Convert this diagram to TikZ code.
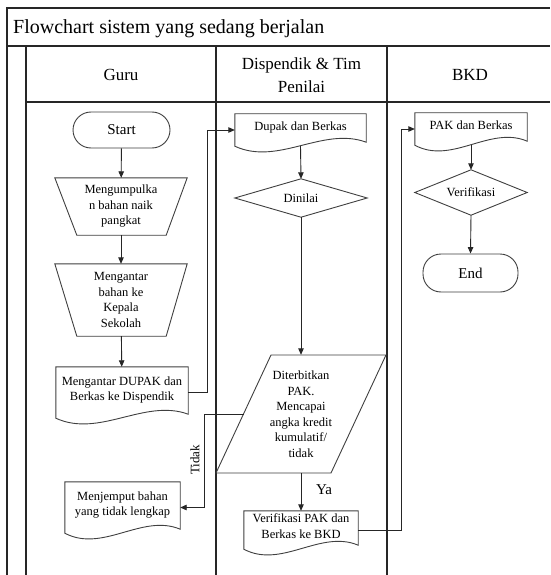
\documentclass[tikz,border=0pt]{standalone}
\usepackage{fontspec}
\setmainfont{Liberation Serif}
\usetikzlibrary{calc,arrows.meta}

% font sizes (1pt = 1 unit of the drawing grid)
\newcommand\flowtitle{\fontsize{20}{24}\selectfont}
\newcommand\flowhead{\fontsize{17}{23}\selectfont}
\newcommand\flowbody{\fontsize{12.5}{15.5}\selectfont}
\newcommand\flowterm{\fontsize{15}{18}\selectfont}
% lifts the text of a document shape a little above its wavy edge
\newcommand\docpad{\\[-8pt]\mbox{}}

% outlines drawn from the anchors of an invisible holder node
\newcommand\docoutline[1]{%
  \draw[outline] (#1.south west) -- (#1.north west) -- (#1.north east)
    -- ($(#1.south east)+(0,-4)$)
    .. controls ($(#1.south west)!0.67!(#1.south east)+(0,-20)$)
    and ($(#1.south west)!0.33!(#1.south east)+(0,20)$) .. (#1.south west)
    -- cycle;}
\newcommand\trapoutline[1]{%
  \draw[outline] (#1.north west) -- (#1.north east)
    -- ($(#1.south east)+(-21,0)$) -- ($(#1.south west)+(22,0)$) -- cycle;}
\newcommand\diamondoutline[1]{%
  \draw[outline] (#1.north) -- (#1.east) -- (#1.south) -- (#1.west) -- cycle;}

\tikzset{
  lane/.style={line width=1.1pt, draw=black!85},
  outline/.style={line width=0.9pt, draw=black!75},
  holder/.style={rectangle, draw=none, inner sep=0pt, align=center, font=\flowbody},
  term/.style={rectangle, rounded corners=18pt, outline, inner sep=0pt, font=\flowterm},
  flow/.style={line width=0.9pt, draw=black!85, -{Triangle[length=6.5pt,width=5.5pt]}},
}

\begin{document}
\begin{tikzpicture}[x=1pt, y=-1pt]
\fill[white] (0,0) rectangle (550,575);
\useasboundingbox (0,0) rectangle (550,575);

% pool and swimlanes
\draw[lane] (7,575) -- (7,8) -- (550,8);
\draw[lane] (7,46) -- (550,46);
\draw[lane] (26,575) -- (26,46);
\draw[lane] (26,102) -- (550,102);
\draw[lane] (216,46) -- (216,575);
\draw[lane] (387,46) -- (387,575);

\node[anchor=base west, font=\flowtitle, inner sep=0pt] (title) at (13,34) {Flowchart sistem yang sedang berjalan};
\node[font=\flowhead, align=center] (hguru) at (121,75) {Guru};
\node[font=\flowhead, align=center] (hdisp) at (301.5,75) {Dispendik \& Tim\\Penilai};
\node[font=\flowhead, align=center] (hbkd) at (470,75) {BKD};

% Guru lane
\node[term, minimum width=97pt, minimum height=36pt] (start) at (121.5,130) {Start};
\node[holder, minimum width=132pt, minimum height=57pt] (kumpul) at (121,206.5) {Mengumpulka\\n bahan naik\\pangkat};
\trapoutline{kumpul}
\node[holder, minimum width=132pt, minimum height=72pt] (antar) at (121,300) {Mengantar\\bahan ke\\Kepala\\Sekolah};
\trapoutline{antar}
\node[holder, minimum width=132pt, minimum height=51pt] (dupakkirim) at (122,392.5) {Mengantar DUPAK dan\\Berkas ke Dispendik\docpad};
\docoutline{dupakkirim}
\node[holder, minimum width=115pt, minimum height=51pt] (jemput) at (122.5,507.5) {Menjemput bahan\\yang tidak lengkap\docpad};
\docoutline{jemput}

% Dispendik & Tim Penilai lane
\node[holder, minimum width=131pt, minimum height=32pt] (dupak) at (300.5,130) {Dupak dan Berkas\docpad};
\docoutline{dupak}
\node[holder, minimum width=132pt, minimum height=38pt] (dinilai) at (301,198) {Dinilai};
\diamondoutline{dinilai}
\coordinate (pTL) at (271,355);
\coordinate (pTR) at (386,355);
\coordinate (pBR) at (331,473);
\coordinate (pBL) at (216,473);
\draw[outline] (pTL) -- (pTR) -- (pBR) -- (pBL) -- cycle;
\node[holder, minimum width=100pt, minimum height=118pt] (terbit) at (301,414) {Diterbitkan\\PAK.\\Mencapai\\angka kredit\\kumulatif/\\tidak};
\node[holder, minimum width=114pt, minimum height=38pt] (verpak) at (301,530) {Verifikasi PAK dan\\Berkas ke BKD\docpad};
\docoutline{verpak}

% BKD lane
\node[holder, minimum width=112pt, minimum height=32pt] (pak) at (471,129) {PAK dan Berkas\docpad};
\docoutline{pak}
\node[holder, minimum width=112pt, minimum height=45pt] (verif) at (471,192.5) {Verifikasi};
\diamondoutline{verif}
\node[term, minimum width=95pt, minimum height=38pt] (end) at (470.5,273) {End};

% connectors
\draw[flow] (start) -- (kumpul);
\draw[flow] (kumpul) -- (antar);
\draw[flow] (antar) -- (dupakkirim);
\coordinate (busA) at (207,0);
\draw[flow] (dupakkirim.east) -- (dupakkirim.east -| busA) -- (busA |- dupak.west) -- (dupak.west);
\draw[flow] (dupak.south) -- (dinilai.north);
\draw[flow] (dinilai.south) -- (terbit.north);
\coordinate (tidakstart) at ($(pBL)!0.5!(pTL)$);
\coordinate (tidakbend) at (204,414);
\draw[flow] (tidakstart) -- (tidakbend) |- (jemput.east);
\node[rotate=90, font=\fontsize{13}{15}\selectfont] (tidaklbl) at (195,460) {Tidak};
\draw[flow] (terbit.south) -- (verpak.north);
\node[font=\flowterm] (ya) at (324,490) {Ya};
\coordinate (busB) at (401,0);
\draw[flow] (verpak.east) -- (verpak.east -| busB) -- (busB |- pak.west) -- (pak.west);
\draw[flow] (pak.south) -- (verif.north);
\draw[flow] (verif.south) -- (end.north);
\end{tikzpicture}
\end{document}
